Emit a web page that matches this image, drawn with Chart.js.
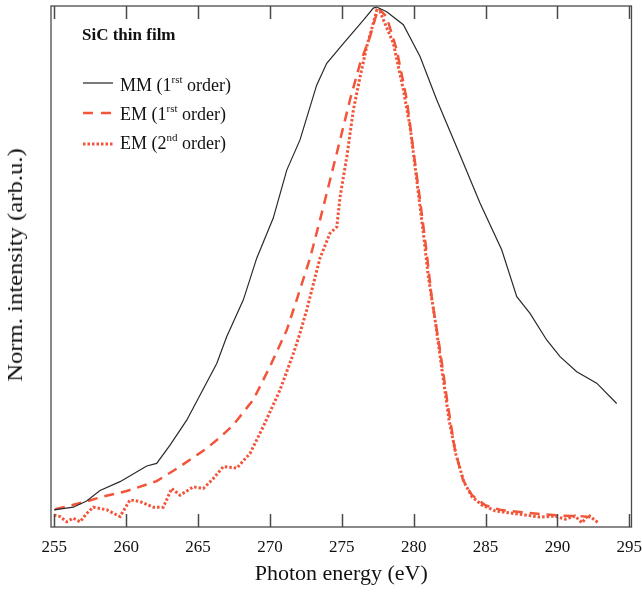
<!DOCTYPE html>
<html>
<head>
<meta charset="utf-8">
<script src="https://cdn.jsdelivr.net/npm/chart.js@4/dist/chart.umd.min.js"></script>
<style>
  body { margin: 0; background: #fff; }
  #wrap { position: relative; width: 642px; height: 592px; font-family: "Liberation Serif", "Times New Roman", serif; color: #111; }
  #graph { position: absolute; left: 0; top: 0; }
  .titre { position: absolute; left: 82px; top: 26px; font-weight: bold; font-size: 17px; line-height: 17px; white-space: nowrap; }
  .ligne { position: absolute; left: 120px; font-size: 18px; line-height: 18px; white-space: nowrap; }
  .ligne sup { font-size: 11px; line-height: 0; vertical-align: 0; position: relative; top: -8px; }
  .echantillon { position: absolute; left: 82px; }
  .titreY { position: absolute; left: 15px; top: 265px; width: 0; height: 0; }
  .titreY span { position: absolute; left: 0; top: 0; white-space: nowrap; font-size: 22px; line-height: 22px;
    transform: translate(-50%, -50%) rotate(-90deg) scaleX(1.12); }
</style>
</head>
<body>
<div id="wrap">
  <canvas id="graph" width="642" height="592"></canvas>
  <div class="titreY"><span>Norm. intensity (arb.u.)</span></div>
  <div class="titre">SiC thin film</div>

  <svg class="echantillon" style="top:78px" width="32" height="10"><line x1="1" y1="5" x2="31" y2="5" stroke="#222" stroke-width="1.2"/></svg>
  <div class="ligne" style="top:76px">MM (1<sup>rst</sup> order)</div>

  <svg class="echantillon" style="top:108px" width="32" height="10"><line x1="1" y1="5" x2="31" y2="5" stroke="#f2553a" stroke-width="2.5" stroke-dasharray="10,8"/></svg>
  <div class="ligne" style="top:105px">EM (1<sup>rst</sup> order)</div>

  <svg class="echantillon" style="top:139px" width="32" height="10"><line x1="1" y1="5" x2="31" y2="5" stroke="#f2553a" stroke-width="3" stroke-dasharray="2.5,2"/></svg>
  <div class="ligne" style="top:134px">EM (2<sup>nd</sup> order)</div>
</div>

<script>
// Graduations de l'axe des énergies
const xTicks = [255, 260, 265, 270, 275, 280, 285, 290, 295];

// MM (1er ordre) - courbe noire
const mmEnergy = [254.98, 256.32, 257.25, 258.18, 259.57, 261.43, 262.12, 263.05, 264.21, 266.30, 266.99, 268.15,
  269.08, 270.23, 271.17, 272.09, 273.25, 273.95, 275.10, 276.50, 277.19, 277.43, 278.12, 279.28, 280.44, 281.60,
  283.22, 284.61, 286.12, 287.17, 288.09, 289.25, 290.18, 291.34, 292.73, 294.12];
const mmIntensity = [0.033, 0.038, 0.050, 0.070, 0.087, 0.117, 0.122, 0.157, 0.205, 0.314, 0.365, 0.436,
  0.516, 0.593, 0.685, 0.743, 0.848, 0.890, 0.928, 0.973, 0.996, 0.998, 0.989, 0.964, 0.903, 0.820,
  0.714, 0.622, 0.532, 0.442, 0.410, 0.359, 0.327, 0.298, 0.276, 0.237];

// EM (1er ordre) - tirets rouges
const emEnergy = [255.05, 257.25, 258.18, 260.04, 262.12, 262.82, 263.74, 264.91, 265.60, 266.53, 267.45, 268.84,
  270.00, 271.17, 271.86, 272.79, 273.48, 274.18, 274.88, 275.57, 276.27, 276.96, 277.43, 277.54, 278.12, 278.82,
  279.52, 279.97, 280.44, 280.91, 281.27, 281.83, 282.32, 282.87, 283.43, 284.05, 284.96, 286.00, 287.39, 288.78,
  290.17, 291.57, 292.75];
const emIntensity = [0.034, 0.049, 0.057, 0.069, 0.088, 0.100, 0.116, 0.138, 0.151, 0.172, 0.196, 0.244,
  0.308, 0.378, 0.436, 0.516, 0.589, 0.666, 0.743, 0.820, 0.890, 0.941, 0.986, 0.996, 0.979, 0.916,
  0.820, 0.724, 0.628, 0.525, 0.436, 0.340, 0.244, 0.148, 0.090, 0.061, 0.042, 0.033, 0.029, 0.025,
  0.022, 0.021, 0.017];

// EM (2e ordre) - pointillés rouges
const em2Energy = [254.98, 255.40, 255.86, 256.32, 256.79, 257.25, 257.71, 258.65, 259.57, 260.27, 260.96, 261.89,
  262.58, 263.17, 263.74, 264.67, 265.37, 266.06, 266.76, 267.69, 268.61, 269.54, 270.70, 271.63, 272.09, 272.56,
  273.48, 274.18, 274.65, 274.88, 275.35, 275.80, 276.27, 276.73, 277.19, 277.43, 277.66, 277.90, 278.59, 279.28,
  279.75, 280.21, 280.67, 281.00, 281.49, 281.97, 282.46, 282.95, 283.50, 284.06, 284.76, 285.66, 286.70, 287.75,
  288.79, 289.83, 290.53, 291.22, 291.71, 292.13, 292.62, 292.83];
const em2Intensity = [0.023, 0.020, 0.010, 0.017, 0.010, 0.026, 0.038, 0.033, 0.020, 0.052, 0.049, 0.038,
  0.038, 0.074, 0.061, 0.077, 0.074, 0.093, 0.116, 0.113, 0.141, 0.193, 0.263, 0.333, 0.372, 0.417,
  0.516, 0.564, 0.576, 0.634, 0.711, 0.800, 0.864, 0.922, 0.967, 0.992, 0.989, 0.973, 0.928, 0.839,
  0.768, 0.666, 0.564, 0.484, 0.397, 0.301, 0.205, 0.138, 0.086, 0.058, 0.042, 0.031, 0.027, 0.023,
  0.019, 0.021, 0.015, 0.021, 0.008, 0.023, 0.013, 0.008];

const rouge = '#f2553a';

function toPoints(xs, ys) {
  return xs.map((x, i) => ({ x: x, y: ys[i] }));
}

// Cadre + graduations vers l'intérieur (haut et bas)
const cadrePlugin = {
  id: 'cadre',
  afterDatasetsDraw(chart) {
    const ctx = chart.ctx;
    const a = chart.chartArea;
    const xs = chart.scales.x;
    ctx.save();
    ctx.strokeStyle = '#4a4a4a';
    ctx.lineWidth = 1.3;
    ctx.strokeRect(a.left, a.top, a.right - a.left, a.bottom - a.top);
    ctx.lineWidth = 1.5;
    xTicks.forEach(v => {
      const px = Math.round(xs.getPixelForValue(v)) + 0.5;
      ctx.beginPath();
      ctx.moveTo(px, a.bottom);
      ctx.lineTo(px, a.bottom - 13);
      ctx.moveTo(px, a.top);
      ctx.lineTo(px, a.top + 13);
      ctx.stroke();
    });
    ctx.restore();
  }
};

const ctx = document.getElementById('graph').getContext('2d');
new Chart(ctx, {
  type: 'line',
  data: {
    datasets: [
      {
        label: 'MM (1rst order)',
        data: toPoints(mmEnergy, mmIntensity),
        borderColor: '#2a2a2a',
        borderWidth: 1.2,
        pointRadius: 0,
        tension: 0
      },
      {
        label: 'EM (1rst order)',
        data: toPoints(emEnergy, emIntensity),
        borderColor: rouge,
        borderWidth: 2.5,
        borderDash: [10, 7],
        pointRadius: 0,
        tension: 0
      },
      {
        label: 'EM (2nd order)',
        data: toPoints(em2Energy, em2Intensity),
        borderColor: rouge,
        borderWidth: 3,
        borderDash: [2.5, 2],
        pointRadius: 0,
        tension: 0
      }
    ]
  },
  options: {
    responsive: false,
    animation: false,
    layout: { padding: { top: 6, right: 10.5, left: 0, bottom: 0 } },
    plugins: {
      legend: { display: false },
      tooltip: { enabled: false }
    },
    scales: {
      x: {
        type: 'linear',
        min: 254.77,
        max: 295.15,
        afterBuildTicks: scale => { scale.ticks = xTicks.map(v => ({ value: v })); },
        afterFit: scale => {
          scale.height = 65;
          scale.paddingLeft = 0;   // on laisse le label 295 déborder comme sur l'original
          scale.paddingRight = 0;
        },
        grid: { display: false, drawTicks: false },
        border: { display: false },
        ticks: {
          color: '#111',
          padding: 10,
          maxRotation: 0,
          autoSkip: false,
          font: { family: '"Liberation Serif", serif', size: 17 }
        },
        title: {
          display: true,
          text: 'Photon energy (eV)',
          color: '#111',
          padding: { top: 0, bottom: 5 },
          font: { family: '"Liberation Serif", serif', size: 22 }
        }
      },
      y: {
        min: 0,
        max: 1,
        afterFit: scale => { scale.width = 51; },
        grid: { display: false, drawTicks: false },
        border: { display: false },
        ticks: { display: false },
        title: { display: false }
      }
    }
  },
  plugins: [cadrePlugin]
});
</script>
</body>
</html>
